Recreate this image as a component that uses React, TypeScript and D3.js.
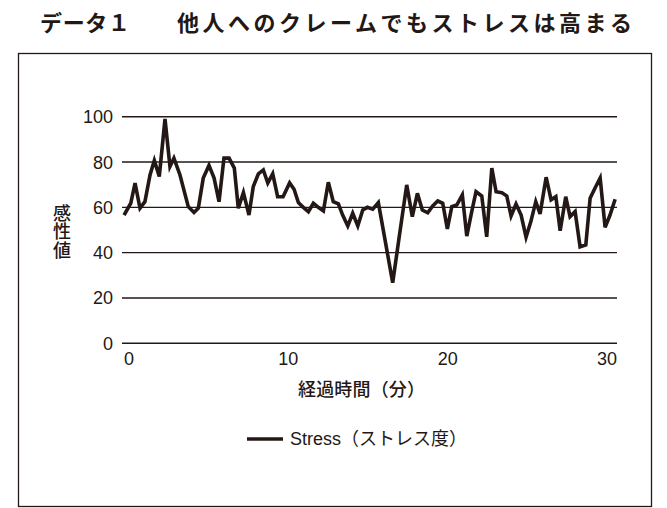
import React from "react";
import * as d3 from "d3";

const TITLE_LEFT = "データ１";
const TITLE_RIGHT = "他人へのクレームでもストレスは高まる";
const Y_LABEL = "感性値";
const X_LABEL = "経過時間（分）";
const LEGEND_LABEL = "Stress";
const LEGEND_LABEL_JP = "（ストレス度）";

const X_TICKS = [0, 10, 20, 30];
const Y_TICKS = [0, 20, 40, 60, 80, 100];

// elapsed minutes of each sample
const MINUTES = [
  -0.31, 0.11, 0.38, 0.69, 1.0, 1.32, 1.59, 1.9, 2.26, 2.57, 2.82, 3.2, 3.72, 4.08, 4.35, 4.66,
  5.02, 5.34, 5.65, 5.96, 6.28, 6.61, 6.86, 7.18, 7.53, 7.8, 8.12, 8.43, 8.71, 9.02, 9.33, 9.67,
  10.08, 10.36, 10.63, 10.94, 11.26, 11.57, 11.88, 12.2, 12.51, 12.82, 13.14, 13.41, 13.73, 14.04,
  14.36, 14.67, 14.96, 15.3, 15.65, 16.1, 16.55, 16.98, 17.43, 17.78, 18.1, 18.41, 18.75, 19.06,
  19.38, 19.69, 19.98, 20.26, 20.57, 20.92, 21.2, 21.51, 21.78, 22.14, 22.45, 22.77, 23.04, 23.4,
  23.71, 23.98, 24.29, 24.61, 24.92, 25.22, 25.53, 25.8, 26.18, 26.49, 26.79, 27.06, 27.41, 27.68,
  28.0, 28.31, 28.67, 28.94, 29.25, 29.57, 29.88, 30.19, 30.51,
];

// stress values
const STRESS = [
  56.6, 61.8, 70.7, 59.6, 62.5, 74.3, 80.7, 73.6, 99, 78, 81.7, 74.3, 60.3, 57.7, 59.6, 72.9,
  78.5, 72.9, 62.5, 81.7, 81.7, 77.3, 59.6, 66.5, 56.6, 69.2, 74.8, 76.5, 70.7, 74.8, 64.7, 64.7,
  70.8, 68, 62.1, 60, 58.1, 61.8, 60, 58.4, 71.1, 62.5, 61.5, 56.6, 51.8, 57.4,
  51.8, 58.8, 60, 59.2, 62.1, 44.4, 26.7, 48, 69.9, 55.9, 66.2, 58.8, 57.6, 60.6,
  62.8, 61.8, 50.5, 60.3, 61, 65.5, 47.3, 58.1, 66.9, 65, 47, 77.3, 66.9, 66.5,
  65, 56.2, 61.5, 56.6, 46.8, 53.7, 62.5, 57.1, 73.3, 63.3, 64.7, 49.7, 64.7, 55.9,
  58.1, 42.6, 43.4, 64, 68.5, 72.9, 51.2, 56.6, 63.6,
];

const INK = "#231815";
const JP = "'Noto Sans CJK JP', 'Noto Sans', sans-serif";
const LATIN = "'Liberation Sans', Arial, 'Noto Sans CJK JP', sans-serif";

export default function App() {
  const W = 667;
  const H = 508;
  const x = d3.scaleLinear().domain([0, 30]).range([129, 607]);
  const y = d3.scaleLinear().domain([0, 100]).range([343.3, 116.7]);
  const gridLeft = 122;
  const gridRight = 617;

  const pts: [number, number][] = MINUTES.map((m, i) => [m, STRESS[i]]);
  const line = d3
    .line<[number, number]>()
    .x((d) => x(d[0]))
    .y((d) => y(d[1]))
    .curve(d3.curveLinear);

  return (
    <svg
      width={W}
      height={H}
      viewBox={`0 0 ${W} ${H}`}
      style={{ position: "absolute", left: 0, top: 0, background: "#fff" }}
    >
      <rect x={0} y={0} width={W} height={H} fill="#fff" />
      {/* title */}
      <text x={40} y={31} fontFamily={JP} fontWeight={700} fontSize={22} fill={INK} textLength={90}>
        {TITLE_LEFT}
      </text>
      <text x={177} y={31} fontFamily={JP} fontWeight={700} fontSize={22} fill={INK} textLength={455}>
        {TITLE_RIGHT}
      </text>
      {/* frame */}
      <rect x={18.5} y={53.5} width={633} height={453} fill="none" stroke={INK} strokeWidth={1.3} />
      {/* grid */}
      {Y_TICKS.map((t) => (
        <g key={t}>
          <line x1={gridLeft} x2={gridRight} y1={y(t)} y2={y(t)} stroke={INK} strokeWidth={1.4} />
          <text
            x={113}
            y={y(t) + 6.5}
            textAnchor="end"
            fontFamily={LATIN}
            fontSize={18}
            fill={INK}
          >
            {t}
          </text>
        </g>
      ))}
      {X_TICKS.map((t) => (
        <text key={t} x={x(t)} y={365} textAnchor="middle" fontFamily={LATIN} fontSize={18} fill={INK}>
          {t}
        </text>
      ))}
      {/* y label (vertical) */}
      <text
        x={62}
        y={204}
        writingMode="vertical-rl"
        fontFamily={JP}
        fontWeight={500}
        fontSize={18}
        letterSpacing={0.5}
        fill={INK}
      >
        {Y_LABEL}
      </text>
      {/* x label */}
      <text x={298} y={396} fontFamily={JP} fontWeight={500} fontSize={18} fill={INK} textLength={127}>
        {X_LABEL}
      </text>
      {/* data line */}
      <path d={line(pts) ?? ""} fill="none" stroke={INK} strokeWidth={3.6} strokeLinejoin="miter" strokeMiterlimit={4} />
      {/* legend */}
      <line x1={247} x2={283} y1={439} y2={439} stroke={INK} strokeWidth={3.6} />
      <text x={290} y={445} fontFamily={LATIN} fontSize={18} fill={INK}>
        {LEGEND_LABEL}
        <tspan fontFamily={JP}>{LEGEND_LABEL_JP}</tspan>
      </text>
    </svg>
  );
}
